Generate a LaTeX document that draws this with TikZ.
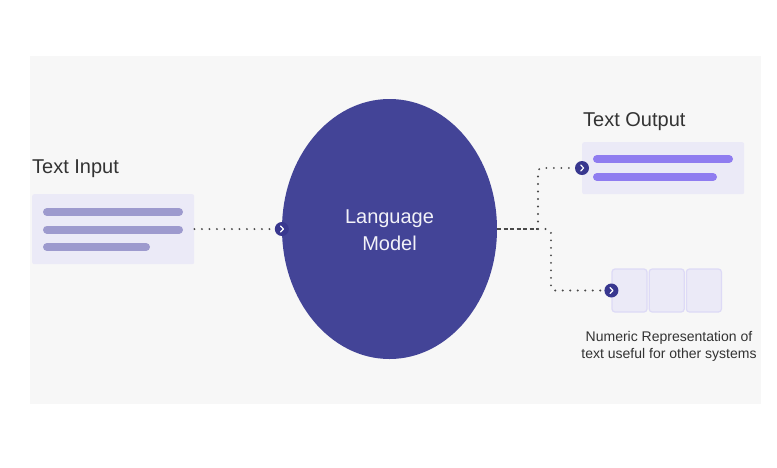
\documentclass[tikz,border=0pt]{standalone}
\usepackage{fontspec}
\setmainfont{Liberation Sans}
\usetikzlibrary{shapes.geometric,positioning}
\definecolor{bggray}{HTML}{F7F7F7}
\definecolor{lmblue}{HTML}{434497}
\definecolor{markblue}{HTML}{38378F}
\definecolor{boxfill}{HTML}{EBEAF7}
\definecolor{inbar}{HTML}{9D9ACE}
\definecolor{outbar}{HTML}{8F7CF0}
\definecolor{cellline}{HTML}{DDDAF6}
\definecolor{txtgray}{HTML}{333333}
\definecolor{dotgray}{HTML}{4A4A4A}
\tikzset{
  panel/.style={fill=boxfill, rounded corners=2pt, inner sep=0pt, anchor=north west},
  bar/.style={line width=8pt, line cap=round},
  cell/.style={draw=cellline, line width=1.2pt, fill=boxfill, rounded corners=3pt,
    minimum width=35pt, minimum height=43pt, inner sep=0pt},
  marker/.style={circle, fill=markblue, minimum size=14pt, inner sep=0pt},
  title/.style={text=txtgray, font=\fontsize{20}{24}\selectfont, anchor=base west, inner sep=0pt},
  dotline/.style={dotgray, line width=2.2pt, line cap=round, dash pattern=on 0pt off 7.5pt},
}
\newcommand{\chevron}[1]{%
  \draw[white, line width=1.2pt, line cap=round, line join=round]
    ([xshift=-1.3pt,yshift=3pt]#1.center) -- ([xshift=1.6pt]#1.center)
    -- ([xshift=-1.3pt,yshift=-3pt]#1.center);}
\begin{document}
\begin{tikzpicture}[x=1pt,y=-1pt]
\useasboundingbox[fill=white] (0,0) rectangle (777,467);
\fill[bggray] (30,56) rectangle (761,404);
% input
\node[title] (intitle) at (32,173) {Text Input};
\node[panel, minimum width=162pt, minimum height=70pt] (inbox) at (32,194) {};
\draw[bar, inbar] (47,212) -- (179,212);
\draw[bar, inbar] (47,229.5) -- (179,229.5);
\draw[bar, inbar] (47,247) -- (146,247);
% language model
\node[ellipse, fill=lmblue, minimum width=215pt, minimum height=260pt, inner sep=0pt] (lm) at (389.5,229) {};
\node[text=white!93!lmblue, align=center, font=\fontsize{20}{27}\selectfont] (lmtext) at (389.5,230) {Language\\Model};
\node[marker] (inmark) at (lm.west) {};
\chevron{inmark}
\draw[dotline] (inbox.east |- inmark) -- (inmark.west);
% output
\node[title] (outtitle) at (583,126) {Text Output};
\node[panel, minimum width=162pt, minimum height=52pt] (outbox) at (582,142) {};
\draw[bar, outbar] (597,159) -- (729,159);
\draw[bar, outbar] (597,177) -- (713,177);
\node[marker] (outmark) at (582,168) {};
\chevron{outmark}
% numeric representation
\node[cell] (cellA) at (629.5,290.5) {};
\node[cell, right=1pt of cellA] (cellB) {};
\node[cell, right=1pt of cellB] (cellC) {};
\node[marker] (nummark) at (cellA.west) {};
\chevron{nummark}
\node[text=txtgray, align=center, font=\fontsize{14}{17}\selectfont, anchor=base] (numtext) at (669,358) {Numeric Representation of\\text useful for other systems};
% connectors
\coordinate (split) at (538,229);
\draw[dotgray, line width=2pt, dash pattern=on 4pt off 2.5pt] (lm.east) -- (split);
\draw[dotline, rounded corners=4pt] (split) |- (outmark.west);
\draw[dotline, rounded corners=4pt] (split) -- ++(13,0) |- (nummark.west);
\end{tikzpicture}
\end{document}
